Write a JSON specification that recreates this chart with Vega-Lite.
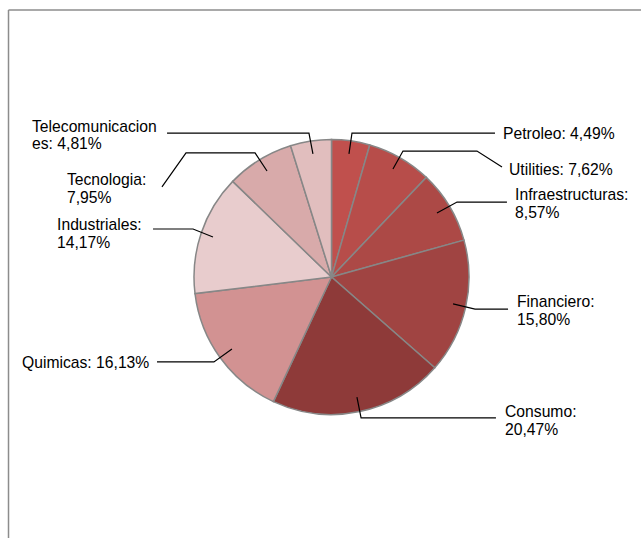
{
  "$schema": "https://vega.github.io/schema/vega-lite/v6.json",
  "width": 641,
  "height": 538,
  "padding": 0,
  "autosize": {"type": "none"},
  "background": "white",
  "config": {"view": {"stroke": null}},
  "datasets": {
    "slices": [
      {"idx": 1, "sector": "Petroleo", "pct": 4.49},
      {"idx": 2, "sector": "Utilities", "pct": 7.62},
      {"idx": 3, "sector": "Infraestructuras", "pct": 8.57},
      {"idx": 4, "sector": "Financiero", "pct": 15.80},
      {"idx": 5, "sector": "Consumo", "pct": 20.47},
      {"idx": 6, "sector": "Quimicas", "pct": 16.13},
      {"idx": 7, "sector": "Industriales", "pct": 14.17},
      {"idx": 8, "sector": "Tecnologia", "pct": 7.95},
      {"idx": 9, "sector": "Telecomunicaciones", "pct": 4.81}
    ],
    "leaders": [
      {"sector": "Petroleo", "i": 1, "x": 0.127, "y": 0.895},
      {"sector": "Petroleo", "i": 2, "x": 0.149, "y": 1.047},
      {"sector": "Petroleo", "i": 3, "x": 1.189, "y": 1.047},
      {"sector": "Utilities", "i": 1, "x": 0.447, "y": 0.785},
      {"sector": "Utilities", "i": 2, "x": 0.520, "y": 0.916},
      {"sector": "Utilities", "i": 3, "x": 1.058, "y": 0.916},
      {"sector": "Utilities", "i": 4, "x": 1.240, "y": 0.800},
      {"sector": "Infraestructuras", "i": 1, "x": 0.767, "y": 0.465},
      {"sector": "Infraestructuras", "i": 2, "x": 0.913, "y": 0.545},
      {"sector": "Infraestructuras", "i": 3, "x": 1.276, "y": 0.545},
      {"sector": "Financiero", "i": 1, "x": 0.884, "y": -0.196},
      {"sector": "Financiero", "i": 2, "x": 1.044, "y": -0.233},
      {"sector": "Financiero", "i": 3, "x": 1.284, "y": -0.233},
      {"sector": "Consumo", "i": 1, "x": 0.185, "y": -0.873},
      {"sector": "Consumo", "i": 2, "x": 0.215, "y": -1.025},
      {"sector": "Consumo", "i": 3, "x": 1.196, "y": -1.025},
      {"sector": "Quimicas", "i": 1, "x": -0.724, "y": -0.524},
      {"sector": "Quimicas", "i": 2, "x": -0.855, "y": -0.618},
      {"sector": "Quimicas", "i": 3, "x": -1.269, "y": -0.618},
      {"sector": "Industriales", "i": 1, "x": -0.862, "y": 0.291},
      {"sector": "Industriales", "i": 2, "x": -1.007, "y": 0.349},
      {"sector": "Industriales", "i": 3, "x": -1.298, "y": 0.349},
      {"sector": "Tecnologia", "i": 1, "x": -0.469, "y": 0.771},
      {"sector": "Tecnologia", "i": 2, "x": -0.556, "y": 0.902},
      {"sector": "Tecnologia", "i": 3, "x": -1.058, "y": 0.902},
      {"sector": "Tecnologia", "i": 4, "x": -1.233, "y": 0.655},
      {"sector": "Telecomunicaciones", "i": 1, "x": -0.135, "y": 0.895},
      {"sector": "Telecomunicaciones", "i": 2, "x": -0.164, "y": 1.047},
      {"sector": "Telecomunicaciones", "i": 3, "x": -1.196, "y": 1.047}
    ],
    "labels": [
      {"sector": "Petroleo", "text": "Petroleo: 4,49%", "x": 1.247, "y": 1.040},
      {"sector": "Utilities", "text": "Utilities: 7,62%", "x": 1.291, "y": 0.778},
      {"sector": "Infraestructuras", "text": "Infraestructuras:\n8,57%", "x": 1.335, "y": 0.596},
      {"sector": "Financiero", "text": "Financiero:\n15,80%", "x": 1.349, "y": -0.182},
      {"sector": "Consumo", "text": "Consumo:\n20,47%", "x": 1.262, "y": -0.982},
      {"sector": "Quimicas", "text": "Quimicas: 16,13%", "x": -2.251, "y": -0.625},
      {"sector": "Industriales", "text": "Industriales:\n14,17%", "x": -1.996, "y": 0.378},
      {"sector": "Tecnologia", "text": "Tecnologia:\n7,95%", "x": -1.924, "y": 0.705},
      {"sector": "Telecomunicaciones", "text": "Telecomunicacion\nes: 4,81%", "x": -2.178, "y": 1.091}
    ],
    "frame": [
      {"x": -2.349, "y": 1.942, "x2": -2.349, "y2": -1.898},
      {"x": -2.349, "y": 1.942, "x2": 2.251, "y2": 1.942}
    ]
  },
  "layer": [
    {
      "data": {"name": "frame"},
      "mark": {"type": "rule", "stroke": "#8c8c8c", "strokeWidth": 1.5},
      "encoding": {
        "x": {"field": "x", "type": "quantitative", "axis": null, "scale": {"domain": [-2.4109, 2.2509], "nice": false, "zero": false}},
        "y": {"field": "y", "type": "quantitative", "axis": null, "scale": {"domain": [-1.8982, 2.0145], "nice": false, "zero": false}},
        "x2": {"field": "x2"},
        "y2": {"field": "y2"}
      }
    },
    {
      "data": {"name": "slices"},
      "mark": {"type": "arc", "outerRadius": 137.5, "stroke": "#878787", "strokeWidth": 1.5},
      "encoding": {
        "x": {"datum": 0, "type": "quantitative", "axis": null, "scale": {"domain": [-2.4109, 2.2509], "nice": false, "zero": false}},
        "y": {"datum": 0, "type": "quantitative", "axis": null, "scale": {"domain": [-1.8982, 2.0145], "nice": false, "zero": false}},
        "theta": {"field": "pct", "type": "quantitative", "stack": true},
        "order": {"field": "idx", "type": "quantitative"},
        "color": {
          "field": "sector",
          "type": "nominal",
          "legend": null,
          "scale": {
            "domain": ["Petroleo", "Utilities", "Infraestructuras", "Financiero", "Consumo", "Quimicas", "Industriales", "Tecnologia", "Telecomunicaciones"],
            "range": ["#c0504d", "#b74d4a", "#ac4946", "#a04442", "#8e3a39", "#d29292", "#e8cccd", "#d8aaaa", "#e1bebe"]
          }
        }
      }
    },
    {
      "data": {"name": "leaders"},
      "mark": {"type": "line", "stroke": "#000000", "strokeWidth": 1.2, "interpolate": "linear"},
      "encoding": {
        "x": {"field": "x", "type": "quantitative", "axis": null, "scale": {"domain": [-2.4109, 2.2509], "nice": false, "zero": false}},
        "y": {"field": "y", "type": "quantitative", "axis": null, "scale": {"domain": [-1.8982, 2.0145], "nice": false, "zero": false}},
        "detail": {"field": "sector", "type": "nominal"},
        "order": {"field": "i", "type": "quantitative"}
      }
    },
    {
      "data": {"name": "labels"},
      "mark": {"type": "text", "align": "left", "baseline": "middle", "font": "Liberation Sans", "fontSize": 15.7, "lineHeight": 17.5, "lineBreak": "\n", "fill": "#000000"},
      "encoding": {
        "x": {"field": "x", "type": "quantitative", "axis": null, "scale": {"domain": [-2.4109, 2.2509], "nice": false, "zero": false}},
        "y": {"field": "y", "type": "quantitative", "axis": null, "scale": {"domain": [-1.8982, 2.0145], "nice": false, "zero": false}},
        "text": {"field": "text"}
      }
    }
  ]
}
